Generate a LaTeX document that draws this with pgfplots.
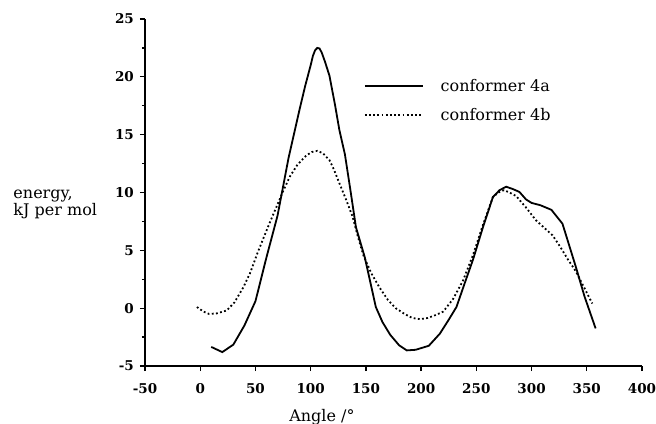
\documentclass[border=0pt]{standalone}
\usepackage{fontspec}
\setmainfont{DejaVu Serif}
\usepackage{pgfplots}
\pgfplotsset{compat=1.18}
\begin{document}
\begin{tikzpicture}
\useasboundingbox (-145bp,-58bp) rectangle (511bp,366bp);
\begin{axis}[
  scale only axis, width=497bp, height=347bp,
  xmin=-50, xmax=400, ymin=-5, ymax=25,
  axis lines*=left,
  axis line style={line width=2bp, black},
  tick align=outside,
  major tick length=5bp, minor tick length=3bp,
  tick style={line width=1.3bp, black},
  xtick={-50,0,...,400}, ytick={-5,0,...,25},
  minor y tick num=1,
  /pgf/number format/assume math mode=true,
  ticklabel style={font=\fontsize{13.5bp}{13.5bp}\selectfont\bfseries},
  yticklabel style={inner xsep=6bp},
  xticklabel style={inner ysep=12bp},
  every axis x label/.style={at={(rel axis cs:0.356,-0.124)}, anchor=north, inner sep=0pt, font=\fontsize{16bp}{16bp}\selectfont},
  every axis y label/.style={at={(rel axis cs:-0.265,0.466)}, anchor=west, align=left, inner sep=0pt, font=\fontsize{16bp}{15bp}\selectfont},
  xlabel={Angle /°},
  ylabel={energy,\\kJ per mol},
  legend style={at={(rel axis cs:0.44,0.832)}, anchor=north west, draw=none, fill=none, inner sep=0pt, row sep=11bp,
    font=\fontsize{16bp}{16bp}\selectfont,
    /tikz/every odd column/.append style={column sep=15bp}},
  legend cell align=left,
  legend image code/.code={\draw[#1] (0bp,0bp) -- (58bp,0bp);},
]
\addplot[line width=1.8bp, black] coordinates {
(10,-3.35) (20,-3.8) (30,-3.15) (40,-1.5) (50,0.6) (60,4.4) (70,8.0) (80,13.0) (90,17.2) (95,19.2) (100,21.0) (102,21.8) (104,22.3) (106,22.5) (108,22.45) (110,22.1) (113,21.3) (117,20.1) (122,17.6) (126,15.4) (131,13.3) (136,10.2) (141,7.0) (149,4.4) (159,0.1) (165,-1.2) (172,-2.3) (180,-3.2) (187,-3.65) (195,-3.6) (207,-3.25) (217,-2.2) (225,-1.0) (232,0.1) (240,2.3) (247,4.2) (256,7.0) (265,9.6) (271,10.2) (277,10.5) (283,10.3) (289,10.05) (295,9.4) (300,9.1) (308,8.9) (318,8.5) (328,7.3) (340,3.6) (348,1.0) (358,-1.75)
};
\addlegendentry{conformer 4a}
\addplot[line width=1.8bp, black, dash pattern=on 1.8bp off 2.4bp] coordinates {
(-3,0.1) (3,-0.3) (8,-0.5) (15,-0.45) (24,-0.2) (31,0.5) (39,1.8) (45,3.0) (52,4.8) (57,6.0) (63,7.4) (69,8.75) (75,10.1) (81,11.35) (88,12.4) (96,13.2) (101,13.5) (106,13.6) (111,13.4) (117,12.8) (121,12.0) (126,10.8) (132,9.4) (138,7.9) (143,6.1) (148,4.5) (155,3.0) (162,1.84) (170,0.7) (177,0.0) (185,-0.5) (192,-0.85) (199,-0.95) (206,-0.85) (213,-0.6) (220,-0.3) (229,0.8) (238,2.4) (247,4.6) (256,7.2) (265,9.6) (270,10.0) (275,10.2) (280,10.0) (286,9.7) (295,8.7) (304,7.6) (312,6.9) (319,6.3) (326,5.3) (333,4.2) (340,3.2) (347,1.9) (355,0.4)
};
\addlegendentry{conformer 4b}
\end{axis}
\end{tikzpicture}
\end{document}
